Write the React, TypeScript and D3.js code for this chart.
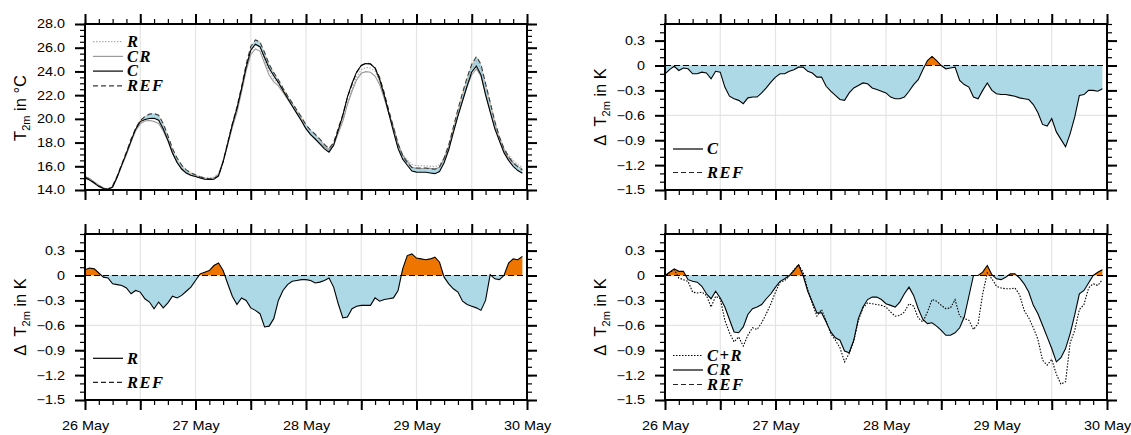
import React, { useEffect, useRef } from 'react';
import * as d3 from 'd3';

// x axis: hours after 26 May 00 UTC, labels every 24 h
const dayLabels = ['26 May', '27 May', '28 May', '29 May', '30 May'];

// 2 m temperature of the reference run, hourly (deg C)
const tRef = [
  15.12, 14.90, 14.60, 14.35, 14.15, 14.08, 14.35, 15.20, 16.20, 17.20, 18.30, 19.20,
  19.85, 20.20, 20.40, 20.45, 20.30, 19.60, 18.60, 17.50, 16.70, 16.10, 15.70, 15.45,
  15.28, 15.12, 15.00, 14.95, 14.95, 15.20, 16.40, 18.00, 19.60, 21.00, 22.70, 24.60,
  26.10, 26.65, 26.50, 25.60, 24.60, 23.90, 23.30, 22.60, 21.95, 21.35, 20.75, 20.15,
  19.50, 19.05, 18.70, 18.30, 17.85, 17.50, 18.00, 19.20, 20.35, 21.80, 22.90, 23.90,
  24.50, 24.70, 24.65, 24.30, 23.50, 22.20, 20.70, 19.30, 17.90, 16.90, 16.30, 15.90,
  15.85, 15.85, 15.85, 15.80, 15.75, 15.95, 16.70, 17.80, 19.30, 20.80, 22.20, 23.50,
  24.60, 25.25, 24.60, 23.00, 21.40, 19.80, 18.50, 17.50, 16.80, 16.30, 15.95, 15.69,
];

// differences to REF (K), hourly
const dC = [
  -0.10, -0.05, -0.01, -0.06, -0.03, -0.04, -0.10, -0.10, -0.08, -0.09, -0.16, -0.07,
  -0.08, -0.26, -0.37, -0.40, -0.42, -0.46, -0.39, -0.38, -0.38, -0.33, -0.27, -0.20,
  -0.14, -0.10, -0.10, -0.07, -0.05, -0.02, -0.02, -0.07, -0.09, -0.14, -0.14, -0.25,
  -0.31, -0.36, -0.41, -0.42, -0.33, -0.27, -0.24, -0.21, -0.22, -0.27, -0.29, -0.31,
  -0.33, -0.38, -0.40, -0.40, -0.38, -0.31, -0.23, -0.17, -0.05, 0.06, 0.11, 0.06,
  0.00, -0.04, -0.03, -0.02, -0.18, -0.23, -0.26, -0.38, -0.40, -0.30, -0.21, -0.30,
  -0.34, -0.35, -0.35, -0.36, -0.37, -0.39, -0.40, -0.41, -0.47, -0.57, -0.71, -0.73,
  -0.64, -0.80, -0.89, -0.98, -0.82, -0.62, -0.36, -0.35, -0.30, -0.30, -0.31, -0.28,
];

const dR = [
  0.07, 0.09, 0.08, 0.03, -0.02, -0.03, -0.10, -0.11, -0.12, -0.15, -0.22, -0.18,
  -0.20, -0.28, -0.32, -0.40, -0.32, -0.39, -0.33, -0.25, -0.27, -0.24, -0.19, -0.14,
  -0.06, 0.02, 0.04, 0.06, 0.12, 0.15, 0.06, -0.10, -0.25, -0.35, -0.27, -0.30,
  -0.39, -0.42, -0.46, -0.62, -0.61, -0.52, -0.30, -0.18, -0.11, -0.07, -0.06, -0.05,
  -0.05, -0.06, -0.09, -0.08, -0.06, -0.03, -0.14, -0.34, -0.51, -0.50, -0.40, -0.37,
  -0.36, -0.36, -0.36, -0.27, -0.31, -0.29, -0.28, -0.27, -0.18, 0.08, 0.24, 0.26,
  0.21, 0.20, 0.19, 0.20, 0.22, 0.16, -0.02, -0.10, -0.16, -0.20, -0.31, -0.35,
  -0.37, -0.39, -0.42, -0.30, 0.01, -0.04, -0.05, 0.00, 0.15, 0.20, 0.19, 0.23,
];

const dCR = [
  0.00, 0.04, 0.08, 0.05, 0.05, -0.05, -0.07, -0.08, -0.13, -0.22, -0.28, -0.19,
  -0.27, -0.38, -0.53, -0.68, -0.69, -0.62, -0.47, -0.40, -0.38, -0.35, -0.28, -0.22,
  -0.14, -0.07, -0.04, 0.00, 0.06, 0.13, 0.00, -0.19, -0.32, -0.45, -0.45, -0.56,
  -0.68, -0.75, -0.78, -0.91, -0.93, -0.78, -0.52, -0.38, -0.29, -0.26, -0.26, -0.29,
  -0.34, -0.36, -0.38, -0.32, -0.22, -0.14, -0.24, -0.40, -0.53, -0.58, -0.57, -0.61,
  -0.66, -0.72, -0.72, -0.69, -0.63, -0.50, -0.25, 0.00, 0.00, 0.04, 0.12, 0.01,
  -0.04, -0.05, -0.02, 0.02, 0.02, -0.03, -0.10, -0.20, -0.36, -0.46, -0.60, -0.74,
  -0.88, -1.04, -0.99, -0.88, -0.70, -0.47, -0.22, -0.18, -0.09, 0.00, 0.04, 0.07,
];

// derived series
const tC = tRef.map((v, i) => v + dC[i]);
const tR = tRef.map((v, i) => v + dR[i]);
const tCR = tRef.map((v, i) => v + dCR[i]);
const dCplusR = dC.map((v, i) => v + dR[i]);

const FONT = "'Liberation Sans', Arial, Helvetica, sans-serif";
const SERIF = "'Liberation Serif', 'Times New Roman', serif";
const BLUE = '#add8e6';
const ORANGE = '#ee7600';
const STRETCH = 1.18;

const PW = 442;
const PH = 166;

type Sel = d3.Selection<any, any, any, any>;
type LegendItem = { label: string; color: string; dash?: string };

function drawAxes(g: Sel, x: d3.ScaleLinear<number, number>, y: d3.ScaleLinear<number, number>,
  yMajor: number[], yMinor: number[], yFmt: (v: number) => string, withDates: boolean) {
  const [yb, yt] = y.range();
  const [xl, xr] = x.range();
  const fix = (sel: Sel, w: number) => {
    sel.select('.domain').remove();
    sel.selectAll('line').attr('stroke', '#000').attr('stroke-width', w);
    sel.attr('font-family', FONT).attr('font-size', 12.2);
  };
  const none = () => '';
  const minorX = d3.range(0, 97, 3);
  const majorX = d3.range(0, 97, 12);

  g.append('g').attr('transform', `translate(0,${yb})`)
    .call(d3.axisBottom(x).tickValues(minorX).tickSize(5).tickFormat(none)).call(fix, 1.2);
  g.append('g').attr('transform', `translate(0,${yt})`)
    .call(d3.axisTop(x).tickValues(minorX).tickSize(5).tickFormat(none)).call(fix, 1.2);
  g.append('g').attr('transform', `translate(${xl},0)`)
    .call(d3.axisLeft(y).tickValues(yMinor).tickSize(5).tickFormat(none)).call(fix, 1.2);
  g.append('g').attr('transform', `translate(${xr},0)`)
    .call(d3.axisRight(y).tickValues(yMinor).tickSize(5).tickFormat(none)).call(fix, 1.2);

  const bottom = g.append('g').attr('transform', `translate(0,${yb})`)
    .call(d3.axisBottom(x).tickValues(majorX).tickSize(10).tickPadding(11)
      .tickFormat((d) => (withDates && +d % 24 === 0 ? dayLabels[+d / 24] : '')))
    .call(fix, 2);
  bottom.selectAll('text').attr('transform', `scale(${STRETCH},1)`);
  g.append('g').attr('transform', `translate(0,${yt})`)
    .call(d3.axisTop(x).tickValues(majorX).tickSize(10).tickFormat(none)).call(fix, 2);
  const left = g.append('g').attr('transform', `translate(${xl},0)`)
    .call(d3.axisLeft(y).tickValues(yMajor).tickSize(10).tickPadding(10).tickFormat((d) => yFmt(+d)))
    .call(fix, 2);
  left.selectAll('text').attr('x', -20 / STRETCH).attr('transform', `scale(${STRETCH},1)`);
  g.append('g').attr('transform', `translate(${xr},0)`)
    .call(d3.axisRight(y).tickValues(yMajor).tickSize(10).tickFormat(none)).call(fix, 2);

  g.append('rect')
    .attr('x', xl).attr('y', yt).attr('width', xr - xl).attr('height', yb - yt)
    .attr('fill', 'none').attr('stroke', '#000').attr('stroke-width', 2);
}

function drawGrid(g: Sel, x: d3.ScaleLinear<number, number>, y: d3.ScaleLinear<number, number>, yLines: number[]) {
  const [yb, yt] = y.range();
  const [xl, xr] = x.range();
  g.append('g').selectAll('line').data(d3.range(12, 96, 12)).join('line')
    .attr('x1', (d) => x(d)).attr('x2', (d) => x(d)).attr('y1', yt).attr('y2', yb)
    .attr('stroke', '#e4e4e4').attr('stroke-width', 1.2);
  g.append('g').selectAll('line').data(yLines).join('line')
    .attr('x1', xl).attr('x2', xr).attr('y1', (d) => y(d)).attr('y2', (d) => y(d))
    .attr('stroke', '#e4e4e4').attr('stroke-width', 1.2);
}

function drawLegend(g: Sel, lx: number, ly: number, step: number, items: LegendItem[]) {
  items.forEach((it, i) => {
    const yy = ly + i * step;
    g.append('line')
      .attr('x1', lx).attr('x2', lx + 30).attr('y1', yy).attr('y2', yy)
      .attr('stroke', it.color).attr('stroke-width', 1.2)
      .attr('stroke-dasharray', it.dash ?? null);
    g.append('text')
      .attr('x', lx + 34).attr('y', yy + 5.3)
      .attr('font-family', SERIF).attr('font-style', 'italic').attr('font-weight', 'bold')
      .attr('font-size', 16.5).attr('letter-spacing', 1.5)
      .text(it.label);
  });
}

function yTitle(svg: Sel, cx: number, cy: number, prefix: string, unit: string) {
  const t = svg.append('text')
    .attr('transform', `translate(${cx},${cy}) rotate(-90)`)
    .attr('text-anchor', 'middle')
    .attr('font-family', FONT).attr('font-size', 16.5)
    .style('white-space', 'pre');
  t.append('tspan').text(prefix + 'T');
  t.append('tspan').attr('font-size', 11).attr('dy', 4).text('2m');
  t.append('tspan').attr('dy', -4).text(' in ' + unit);
}

function tempPanel(svg: Sel, defs: Sel, px: number, py: number) {
  const x = d3.scaleLinear().domain([0, 96]).range([px, px + PW]);
  const y = d3.scaleLinear().domain([14, 28]).range([py + PH, py]);
  const g = svg.append('g');
  drawGrid(g, x, y, []);

  const below = d3.area<number>().x((_, i) => x(i)).y0(py + PH).y1((d) => y(d));
  const above = d3.area<number>().x((_, i) => x(i)).y0(py).y1((d) => y(d));
  defs.append('clipPath').attr('id', 'ref-lo').append('path').attr('d', below(tRef));
  defs.append('clipPath').attr('id', 'ref-hi').append('path').attr('d', above(tRef));
  const band = d3.area<number>().x((_, i) => x(i)).y0((_, i) => y(tRef[i])).y1((d) => y(d));
  g.append('path').datum(tC).attr('d', band).attr('fill', BLUE).attr('clip-path', 'url(#ref-lo)');
  g.append('path').datum(tC).attr('d', band).attr('fill', ORANGE).attr('clip-path', 'url(#ref-hi)');

  const line = d3.line<number>().x((_, i) => x(i)).y((d) => y(d));
  g.append('path').datum(tR).attr('d', line).attr('fill', 'none')
    .attr('stroke', '#b0b0b0').attr('stroke-width', 1.2).attr('stroke-dasharray', '1.5,1.5');
  g.append('path').datum(tCR).attr('d', line).attr('fill', 'none')
    .attr('stroke', '#9a9a9a').attr('stroke-width', 1.1);
  g.append('path').datum(tRef).attr('d', line).attr('fill', 'none')
    .attr('stroke', '#3a3a3a').attr('stroke-width', 1.1).attr('stroke-dasharray', '5,3');
  g.append('path').datum(tC).attr('d', line).attr('fill', 'none')
    .attr('stroke', '#000').attr('stroke-width', 1.1);

  drawAxes(g, x, y, d3.range(14, 28.01, 2), d3.range(14, 28.01, 0.5), d3.format('.1f'), false);
  drawLegend(g, px + 8, py + 17.7, 14.7, [
    { label: 'R', color: '#b0b0b0', dash: '1.5,1.5' },
    { label: 'CR', color: '#9a9a9a' },
    { label: 'C', color: '#000' },
    { label: 'REF', color: '#3a3a3a', dash: '5,3' },
  ]);
}

function diffPanel(svg: Sel, defs: Sel, id: string, px: number, py: number, series: number[],
  dotted: number[] | null, withDates: boolean, legendY: number, legendStep: number, items: LegendItem[]) {
  const x = d3.scaleLinear().domain([0, 96]).range([px, px + PW]);
  const y = d3.scaleLinear().domain([-1.5, 0.5]).range([py + PH, py]);
  const g = svg.append('g');
  drawGrid(g, x, y, [-0.6]);

  defs.append('clipPath').attr('id', `${id}-lo`).append('rect')
    .attr('x', px).attr('y', y(0)).attr('width', PW).attr('height', py + PH - y(0));
  defs.append('clipPath').attr('id', `${id}-hi`).append('rect')
    .attr('x', px).attr('y', py).attr('width', PW).attr('height', y(0) - py);
  const area = d3.area<number>().x((_, i) => x(i)).y0(y(0)).y1((d) => y(d));
  g.append('path').datum(series).attr('d', area).attr('fill', BLUE).attr('clip-path', `url(#${id}-lo)`);
  g.append('path').datum(series).attr('d', area).attr('fill', ORANGE).attr('clip-path', `url(#${id}-hi)`);

  g.append('line').attr('x1', px).attr('x2', px + PW).attr('y1', y(0)).attr('y2', y(0))
    .attr('stroke', '#000').attr('stroke-width', 1.1).attr('stroke-dasharray', '6,3');

  const line = d3.line<number>().x((_, i) => x(i)).y((d) => y(d));
  if (dotted) {
    g.append('path').datum(dotted).attr('d', line).attr('fill', 'none')
      .attr('stroke', '#000').attr('stroke-width', 1.1).attr('stroke-dasharray', '1.5,1.5');
  }
  g.append('path').datum(series).attr('d', line).attr('fill', 'none')
    .attr('stroke', '#000').attr('stroke-width', 1.1);

  const major = [-1.5, -1.2, -0.9, -0.6, -0.3, 0, 0.3];
  const minor = d3.range(-15, 6).map((v) => v / 10);
  drawAxes(g, x, y, major, minor, (v) => (Math.abs(v) < 1e-9 ? '0' : d3.format('.1f')(v)), withDates);
  drawLegend(g, px + 8, legendY, legendStep, items);
}

export default function App() {
  const ref = useRef<SVGSVGElement>(null);

  useEffect(() => {
    const svg = d3.select(ref.current);
    svg.selectAll('*').remove();
    const defs = svg.append('defs');

    tempPanel(svg, defs, 85, 24);
    yTitle(svg, 26, 108, '', '\u00b0C');

    diffPanel(svg, defs, 'c', 665, 24, dC, null, false, 149, 23.5, [
      { label: 'C', color: '#000' },
      { label: 'REF', color: '#222', dash: '5,3' },
    ]);
    yTitle(svg, 606, 107, '\u0394  ', 'K');

    diffPanel(svg, defs, 'r', 85, 234, dR, null, true, 358.3, 24, [
      { label: 'R', color: '#000' },
      { label: 'REF', color: '#222', dash: '5,3' },
    ]);
    yTitle(svg, 26, 317, '\u0394  ', 'K');

    diffPanel(svg, defs, 'cr', 665, 234, dCR, dCplusR, true, 355.5, 14.5, [
      { label: 'C+R', color: '#000', dash: '1.5,1.5' },
      { label: 'CR', color: '#000' },
      { label: 'REF', color: '#222', dash: '5,3' },
    ]);
    yTitle(svg, 606, 317, '\u0394  ', 'K');
  }, []);

  return (
    <svg ref={ref} width={1131} height={435}
      style={{ position: 'absolute', left: 0, top: 0, background: '#fff' }} />
  );
}
